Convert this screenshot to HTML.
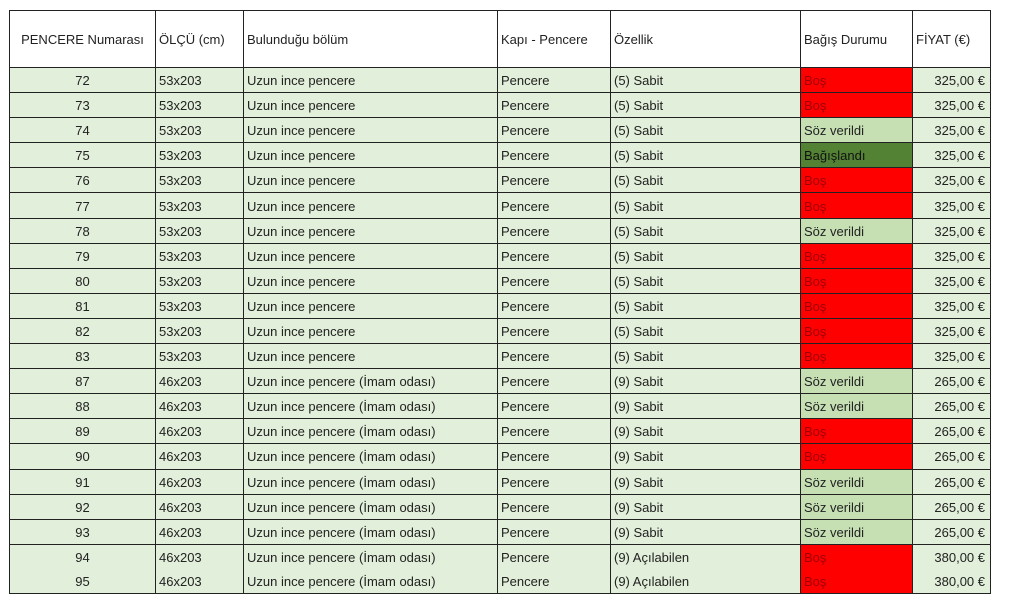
<!DOCTYPE html>
<html><head><meta charset="utf-8"><style>
body{margin:0;background:#fff;width:1009px;height:602px;overflow:hidden;font-family:"Liberation Sans",sans-serif;font-size:13px;color:#222}
table{position:absolute;left:9px;top:10px;border-collapse:collapse;table-layout:fixed}
td{border:1px solid #222;padding:1px 3px 0 3px;height:23.1px;line-height:15px;white-space:nowrap;overflow:hidden;background:#e2efda;box-sizing:content-box}
tr.h td{background:#fff;height:55px;font-size:13px}
td.c{text-align:center}
td.r{text-align:right;padding-right:5px}
td.b{background:#ff0000;color:#9c0006}
td.s{background:#c6e0b4}
td.g{background:#548235;color:#111}
tr.nb td{border-bottom:none}
tr.nt td{border-top:none}
</style></head><body>
<table>
<colgroup><col style="width:146px"><col style="width:88px"><col style="width:254px"><col style="width:113px"><col style="width:190px"><col style="width:112px"><col style="width:78px"></colgroup>
<tr class="h"><td class="c">PENCERE Numarası</td><td>ÖLÇÜ (cm)</td><td>Bulunduğu bölüm</td><td>Kapı - Pencere</td><td>Özellik</td><td>Bağış Durumu</td><td>FİYAT (€)</td></tr>
<tr><td class="c">72</td><td>53x203</td><td>Uzun ince pencere</td><td>Pencere</td><td>(5) Sabit</td><td class="b">Boş</td><td class="r">325,00 €</td></tr>
<tr><td class="c">73</td><td>53x203</td><td>Uzun ince pencere</td><td>Pencere</td><td>(5) Sabit</td><td class="b">Boş</td><td class="r">325,00 €</td></tr>
<tr><td class="c">74</td><td>53x203</td><td>Uzun ince pencere</td><td>Pencere</td><td>(5) Sabit</td><td class="s">Söz verildi</td><td class="r">325,00 €</td></tr>
<tr><td class="c">75</td><td>53x203</td><td>Uzun ince pencere</td><td>Pencere</td><td>(5) Sabit</td><td class="g">Bağışlandı</td><td class="r">325,00 €</td></tr>
<tr><td class="c">76</td><td>53x203</td><td>Uzun ince pencere</td><td>Pencere</td><td>(5) Sabit</td><td class="b">Boş</td><td class="r">325,00 €</td></tr>
<tr><td class="c">77</td><td>53x203</td><td>Uzun ince pencere</td><td>Pencere</td><td>(5) Sabit</td><td class="b">Boş</td><td class="r">325,00 €</td></tr>
<tr><td class="c">78</td><td>53x203</td><td>Uzun ince pencere</td><td>Pencere</td><td>(5) Sabit</td><td class="s">Söz verildi</td><td class="r">325,00 €</td></tr>
<tr><td class="c">79</td><td>53x203</td><td>Uzun ince pencere</td><td>Pencere</td><td>(5) Sabit</td><td class="b">Boş</td><td class="r">325,00 €</td></tr>
<tr><td class="c">80</td><td>53x203</td><td>Uzun ince pencere</td><td>Pencere</td><td>(5) Sabit</td><td class="b">Boş</td><td class="r">325,00 €</td></tr>
<tr><td class="c">81</td><td>53x203</td><td>Uzun ince pencere</td><td>Pencere</td><td>(5) Sabit</td><td class="b">Boş</td><td class="r">325,00 €</td></tr>
<tr><td class="c">82</td><td>53x203</td><td>Uzun ince pencere</td><td>Pencere</td><td>(5) Sabit</td><td class="b">Boş</td><td class="r">325,00 €</td></tr>
<tr><td class="c">83</td><td>53x203</td><td>Uzun ince pencere</td><td>Pencere</td><td>(5) Sabit</td><td class="b">Boş</td><td class="r">325,00 €</td></tr>
<tr><td class="c">87</td><td>46x203</td><td>Uzun ince pencere (İmam odası)</td><td>Pencere</td><td>(9) Sabit</td><td class="s">Söz verildi</td><td class="r">265,00 €</td></tr>
<tr><td class="c">88</td><td>46x203</td><td>Uzun ince pencere (İmam odası)</td><td>Pencere</td><td>(9) Sabit</td><td class="s">Söz verildi</td><td class="r">265,00 €</td></tr>
<tr><td class="c">89</td><td>46x203</td><td>Uzun ince pencere (İmam odası)</td><td>Pencere</td><td>(9) Sabit</td><td class="b">Boş</td><td class="r">265,00 €</td></tr>
<tr><td class="c">90</td><td>46x203</td><td>Uzun ince pencere (İmam odası)</td><td>Pencere</td><td>(9) Sabit</td><td class="b">Boş</td><td class="r">265,00 €</td></tr>
<tr><td class="c">91</td><td>46x203</td><td>Uzun ince pencere (İmam odası)</td><td>Pencere</td><td>(9) Sabit</td><td class="s">Söz verildi</td><td class="r">265,00 €</td></tr>
<tr><td class="c">92</td><td>46x203</td><td>Uzun ince pencere (İmam odası)</td><td>Pencere</td><td>(9) Sabit</td><td class="s">Söz verildi</td><td class="r">265,00 €</td></tr>
<tr><td class="c">93</td><td>46x203</td><td>Uzun ince pencere (İmam odası)</td><td>Pencere</td><td>(9) Sabit</td><td class="s">Söz verildi</td><td class="r">265,00 €</td></tr>
<tr class="nb"><td class="c">94</td><td>46x203</td><td>Uzun ince pencere (İmam odası)</td><td>Pencere</td><td>(9) Açılabilen</td><td class="b">Boş</td><td class="r">380,00 €</td></tr>
<tr class="nt"><td class="c">95</td><td>46x203</td><td>Uzun ince pencere (İmam odası)</td><td>Pencere</td><td>(9) Açılabilen</td><td class="b">Boş</td><td class="r">380,00 €</td></tr>
</table>
</body></html>
